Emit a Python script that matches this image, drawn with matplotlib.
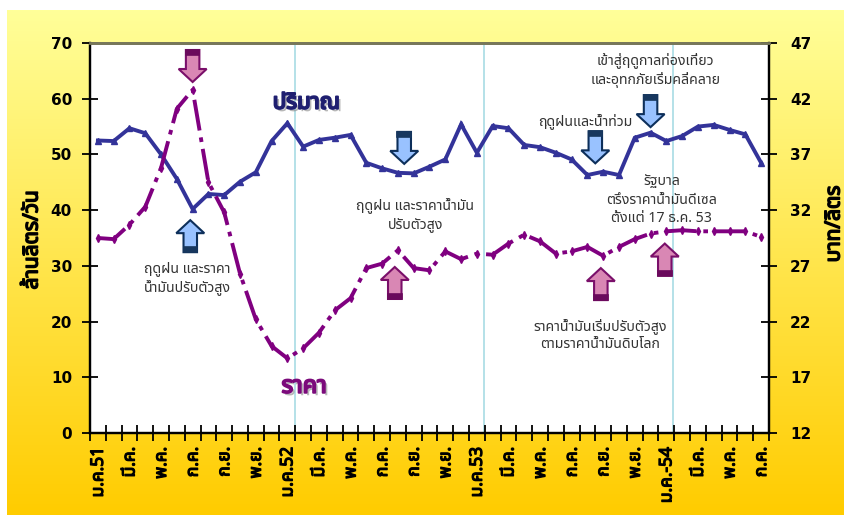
import numpy as np
import matplotlib
matplotlib.use("Agg")
import matplotlib.pyplot as plt
from matplotlib import font_manager as fm
from matplotlib.ft2font import FT2Font
from matplotlib.patches import Polygon, Rectangle
from matplotlib.transforms import IdentityTransform
import matplotlib.patheffects as pe

# ---------------- data ----------------
month_labels = ['ม.ค.51', 'มี.ค.', 'พ.ค.', 'ก.ค.', 'ก.ย.', 'พ.ย.',
                'ม.ค.52', 'มี.ค.', 'พ.ค.', 'ก.ค.', 'ก.ย.', 'พ.ย.',
                'ม.ค.53', 'มี.ค.', 'พ.ค.', 'ก.ค.', 'ก.ย.', 'พ.ย.',
                'ม.ค.-54', 'มี.ค.', 'พ.ค.', 'ก.ค.']
volume = [52.5, 52.4, 54.7, 53.8, 50.0, 45.6, 40.2, 42.9, 42.7, 45.1, 46.8,
          52.4, 55.6, 51.4, 52.6, 53.0, 53.5, 48.5, 47.5, 46.7, 46.6, 47.8,
          49.1, 55.4, 50.3, 55.1, 54.7, 51.7, 51.3, 50.3, 49.1, 46.3, 46.9,
          46.3, 53.0, 53.9, 52.4, 53.3, 55.0, 55.3, 54.4, 53.6, 48.5]
price = [29.5, 29.4, 30.7, 32.3, 35.8, 41.1, 42.8, 34.5, 31.8, 26.3, 22.2,
         19.8, 18.7, 19.6, 21.0, 23.0, 24.1, 26.8, 27.2, 28.4, 26.8, 26.6,
         28.3, 27.6, 28.1, 28.0, 29.0, 29.8, 29.2, 28.1, 28.3, 28.7, 27.9,
         28.7, 29.4, 29.9, 30.1, 30.2, 30.1, 30.1, 30.1, 30.1, 29.6]
left_ticks = [0, 10, 20, 30, 40, 50, 60, 70]
right_ticks = [12, 17, 22, 27, 32, 37, 42, 47]

# ---------------- fonts ----------------
def find_thai():
    prefs = ['Tahoma', 'Noto Sans Thai', 'Noto Sans Thai UI', 'Noto Sans Thai Looped',
             'Loma', 'Garuda', 'Sarabun', 'Waree', 'Umpush', 'Kinnari', 'Norasi',
             'Laksaman', 'Tlwg Typo']
    cands = {}
    for f in fm.fontManager.ttflist:
        try:
            cm = FT2Font(f.fname).get_charmap()
        except Exception:
            continue
        if 0x0E01 in cm and 0x0E49 in cm:
            cands.setdefault(f.name, []).append(f)
    for p in prefs:
        if p in cands:
            return p
    return sorted(cands)[0] if cands else None

thai = find_thai()
FAM = ([thai] if thai else []) + ['DejaVu Sans']
plt.rcParams['font.family'] = FAM

def bold_fx(color, w=0.9):
    return [pe.withStroke(linewidth=w, foreground=color)]

W, H, DPI = 845, 515, 100
fig = plt.figure(figsize=(W / DPI, H / DPI), dpi=DPI)
fig.patch.set_facecolor('white')

# gradient background
bg = fig.add_axes([7 / W, 0, 1 - 7 / W, 1 - 10 / H], zorder=-10)
top_c = np.array([255, 255, 153]) / 255
bot_c = np.array([255, 204, 0]) / 255
t = np.linspace(0, 1, 256)[:, None]
grad = (top_c[None, :] * (1 - t) + bot_c[None, :] * t)[:, None, :]
bg.imshow(grad, aspect='auto', extent=[0, 1, 0, 1], origin='upper')
bg.set_axis_off()

L, R, T, B = 90, 769, 43, 433
ax = fig.add_axes([L / W, 1 - B / H, (R - L) / W, (B - T) / H], zorder=1)
ax.set_facecolor('white')
ax2 = ax.twinx()

n = len(volume)
x = np.arange(n)
ax.set_xlim(-0.5, n - 0.5)
ax.set_ylim(0, 70)
ax2.set_ylim(12, 47)

for xv in [12.46, 24.45, 36.4]:
    ax.axvline(xv, color='#A8DCE4', lw=1.2, zorder=0.5)

ax.plot(x, volume, color='#333399', lw=2.8, marker='^', ms=4.5,
        mfc='#333399', mec='#333399', zorder=3, solid_joinstyle='miter')
ax2.plot(x, price, color='#800080', lw=2.8, marker='d', ms=4,
         mfc='#800080', mec='#800080', linestyle=(0, (8, 1.8, 1.2, 1.8)), zorder=3)

# ticks
ax.set_yticks(left_ticks)
ax2.set_yticks(right_ticks)
ax.tick_params(axis='y', direction='inout', length=12, width=1.3, pad=7,
               labelsize=11, colors='black')
ax2.tick_params(axis='y', direction='inout', length=12, width=1.3, pad=9,
                labelsize=11, colors='black')
for lab in ax.get_yticklabels() + ax2.get_yticklabels():
    lab.set_fontweight('bold')
    lab.set_family('DejaVu Sans')

ax.set_xticks(np.arange(0, n, 2))
ax.set_xticklabels(month_labels, rotation=90, fontsize=12.5, fontweight='bold',
                   va='top', ha='center')
for lab in ax.get_xticklabels():
    lab.set_path_effects(bold_fx('black', 0.9))
ax.set_xticks(np.arange(-0.5, n, 1), minor=True)
ax.tick_params(axis='x', which='major', length=0, pad=10)
ax.tick_params(axis='x', which='minor', direction='inout', length=12, width=1.3)

for a in (ax, ax2):
    a.spines['top'].set_color('#77775A')
    a.spines['top'].set_linewidth(2)
    for s in ('left', 'bottom', 'right'):
        a.spines[s].set_color('black')
        a.spines[s].set_linewidth(1.6)

fig.text(32 / W, 1 - 240 / H, 'ล้านลิตร/วัน', rotation=90, ha='center', va='center',
         fontsize=15, fontweight='bold', path_effects=bold_fx('black', 1.1))
fig.text(834 / W, 1 - 224 / H, 'บาท/ลิตร', rotation=90, ha='center', va='center',
         fontsize=15, fontweight='bold', path_effects=bold_fx('black', 1.1))

def title_fx(color):
    return [pe.withSimplePatchShadow(offset=(1.8, -1.8), shadow_rgbFace='#888888', alpha=0.6),
            pe.withStroke(linewidth=1.4, foreground=color)]

ax.text(13.2, 59.2, 'ปริมาณ', color='#1F1F70', fontsize=16, fontweight='bold',
        ha='center', va='center', path_effects=title_fx('#1F1F70'), zorder=5)
ax.text(13.05, 8.3, 'ราคา', color='#7B0A7B', fontsize=17, fontweight='bold',
        ha='center', va='center', path_effects=title_fx('#7B0A7B'), zorder=5)

notes = [
    (5.65, 27.7, 'ฤดูฝน และราคา\nน้ำมันปรับตัวสูง'),
    (20.1, 39.1, 'ฤดูฝน และราคาน้ำมัน\nปรับตัวสูง'),
    (30.85, 56.0, 'ฤดูฝนและน้ำท่วม'),
    (35.3, 65.2, 'เข้าสู่ฤดูกาลท่องเที่ยว\nและอุทกภัยเริ่มคลี่คลาย'),
    (35.7, 41.8, 'รัฐบาล\nตรึงราคาน้ำมันดีเซล\nตั้งแต่ 17 ธ.ค. 53'),
    (31.8, 17.6, 'ราคาน้ำมันเริ่มปรับตัวสูง\nตามราคาน้ำมันดิบโลก'),
]
for xx, yy, s in notes:
    ax.text(xx, yy, s, fontsize=10.2, color='#333333', ha='center', va='center',
            linespacing=1.3, zorder=5)

# block arrows (tip in data coords of left axis)
arrows = [
    (6.0, 63.0, 'down', 'pink'),
    (5.85, 38.2, 'up', 'blue'),
    (19.4, 48.3, 'down', 'blue'),
    (18.8, 29.8, 'up', 'pink'),
    (31.5, 48.4, 'down', 'blue'),
    (35.0, 54.9, 'down', 'blue'),
    (31.85, 29.6, 'up', 'pink'),
    (35.9, 34.0, 'up', 'pink'),
]
styles = {'pink': ('#D987B4', '#7A0F6A', '#6A0A5C'),
          'blue': ('#99C2FF', '#0D2F5A', '#17375E')}
HW, SW, HL, TL, BAR = 28, 13.5, 13, 32, 5

fig.canvas.draw()
for xx, yy, d, kind in arrows:
    tx, ty = ax.transData.transform((xx, yy))
    sgn = 1 if d == 'down' else -1  # down arrow: body above the tip
    pts = [(tx, ty), (tx - HW / 2, ty + sgn * HL), (tx - SW / 2, ty + sgn * HL),
           (tx - SW / 2, ty + sgn * TL), (tx + SW / 2, ty + sgn * TL),
           (tx + SW / 2, ty + sgn * HL), (tx + HW / 2, ty + sgn * HL)]
    fc, ec, bc = styles[kind]
    poly = Polygon(pts, closed=True, facecolor=fc, edgecolor=ec, lw=1.5,
                   transform=IdentityTransform(), zorder=6, joinstyle='miter')
    fig.add_artist(poly)
    y0 = ty + sgn * TL
    y1 = ty + sgn * (TL - BAR)
    bar = Rectangle((tx - SW / 2, min(y0, y1)), SW, abs(y1 - y0), facecolor=bc,
                    edgecolor=bc, lw=1.2, transform=IdentityTransform(), zorder=7)
    fig.add_artist(bar)

fig.savefig('out.png', dpi=DPI, facecolor=fig.get_facecolor())
